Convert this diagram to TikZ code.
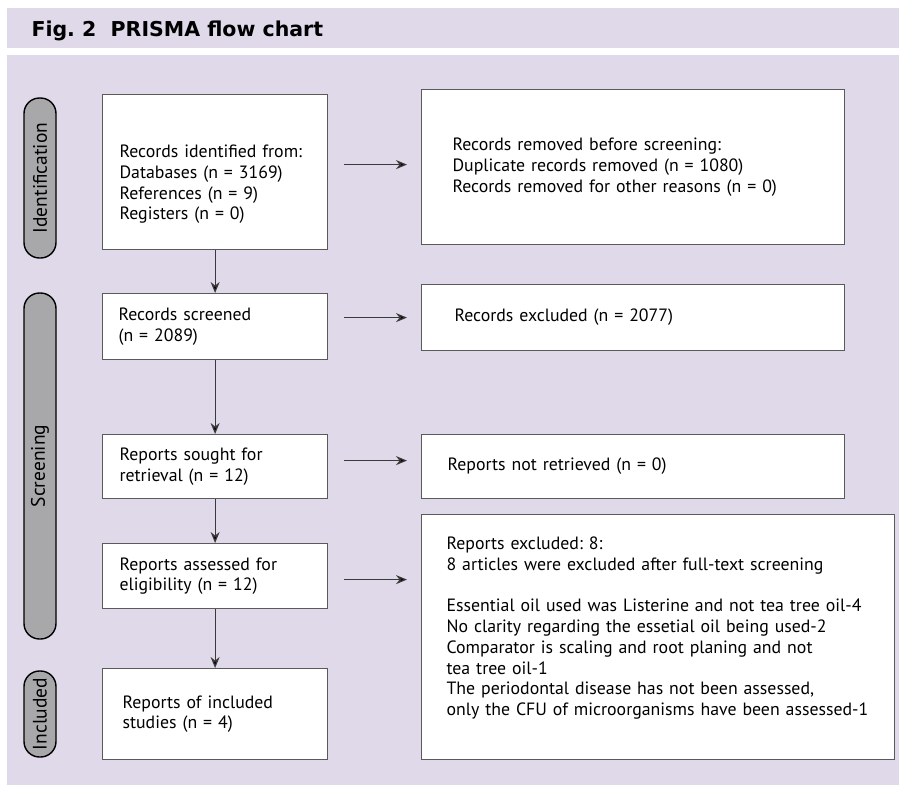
\documentclass[tikz,border=0pt]{standalone}
\usepackage{fontspec}
\setmainfont{PT Sans}
\newfontfamily\titlefont{DejaVu Sans}
\usetikzlibrary{arrows.meta}
\definecolor{lavender}{HTML}{DFD9EA}
\definecolor{pillgray}{HTML}{A8A7AA}
\definecolor{boxline}{HTML}{5A5A5A}
\definecolor{arrowline}{HTML}{3A3A3A}
\tikzset{
  box/.style={draw=boxline, fill=white, line width=1.2pt, anchor=north west,
    align=left, inner ysep=0pt, font=\fontsize{17.8}{20.8}\selectfont},
  pill/.style={draw=black, fill=pillgray, line width=1.4pt, rotate=90,
    rounded corners=15.5pt, minimum height=32pt, inner sep=0pt,
    font=\fontsize{19.5}{20}\selectfont},
  flow/.style={draw=arrowline, line width=1.2pt, -{Stealth[length=11pt,width=9pt,fill=black]}}
}
\frenchspacing
\hyphenpenalty=10000
\exhyphenpenalty=10000
\begin{document}
\begin{tikzpicture}[x=1pt,y=-1pt]
      \useasboundingbox (0,0) rectangle (899,785);
      \fill[lavender] (7,8) rectangle (899,48);
      \fill[lavender] (7,55) rectangle (899,785);
      \node[anchor=base west, font=\fontsize{20.5}{24}\selectfont\titlefont\bfseries] (title) at (28,36) {Fig. 2\ \ PRISMA flow chart};
      \draw
        (102,94) node[box, inner xsep=17pt, text width=191pt, minimum height=155pt] (0)
          {\rule{0pt}{37pt}Records identified from:\\Databases (n = 3169)\\References (n = 9)\\Registers (n = 0)}
        (421,89) node[box, inner xsep=31pt, text width=361pt, minimum height=155pt] (1)
          {Records removed before screening:\\Duplicate records removed (n = 1080)\\Records removed for other reasons (n = 0)}
        (102,293) node[box, inner xsep=16pt, text width=193pt, minimum height=66pt] (2)
          {Records screened\\(n = 2089)}
        (421,284) node[box, inner xsep=33pt, text width=357pt, minimum height=66pt] (3)
          {Records excluded (n = 2077)}
        (102,434) node[box, inner xsep=17pt, text width=191pt, minimum height=64pt] (4)
          {Reports sought for\\retrieval (n = 12)}
        (421,434) node[box, inner xsep=26pt, text width=371pt, minimum height=64pt] (5)
          {Reports not retrieved (n = 0)}
        (102,543) node[box, inner xsep=17pt, text width=191pt, minimum height=65pt] (6)
          {Reports assessed for\\eligibility (n = 12)}
        (421,514) node[box, inner xsep=25pt, text width=423pt, minimum height=245pt] (7)
          {Reports excluded: 8:\\8 articles were excluded after full-text screening\\[20.8pt]
           Essential oil used was Listerine and not tea tree oil-4\\
           No clarity regarding the essetial oil being used-2\\
           Comparator is scaling and root planing and not\\tea tree oil-1\\
           The periodontal disease has not been assessed,\\
           only the CFU of microorganisms have been assessed-1\vspace*{18pt}}
        (102,668) node[box, inner xsep=20pt, text width=185pt, minimum height=91pt] (8)
          {Reports of included\\studies (n = 4)};
      \node[pill, minimum width=160pt] (a) at (40,178) {Identification};
      \node[pill, minimum width=346pt] (b) at (40,466) {Screening};
      \node[pill, minimum width=86pt] (c) at (40,714) {Included};
      \begin{scope}[flow]
        \draw (0) to (2);
        \draw (2) to (4);
        \draw (4) to (6);
        \draw (6) to (8);
      \end{scope}
      \begin{scope}[flow, shorten <=16pt, shorten >=14pt]
        \draw ([yshift=7.5pt]0.east) to ([yshift=7.5pt]0.east -| 1.west);
        \draw (2.east |- 3.west) to (3.west);
        \draw ([yshift=6pt]4.east) to ([yshift=6pt]5.west);
        \draw ([yshift=-3.5pt]6.east) to ([yshift=-3.5pt]6.east -| 7.west);
      \end{scope}
    \end{tikzpicture}
\end{document}
